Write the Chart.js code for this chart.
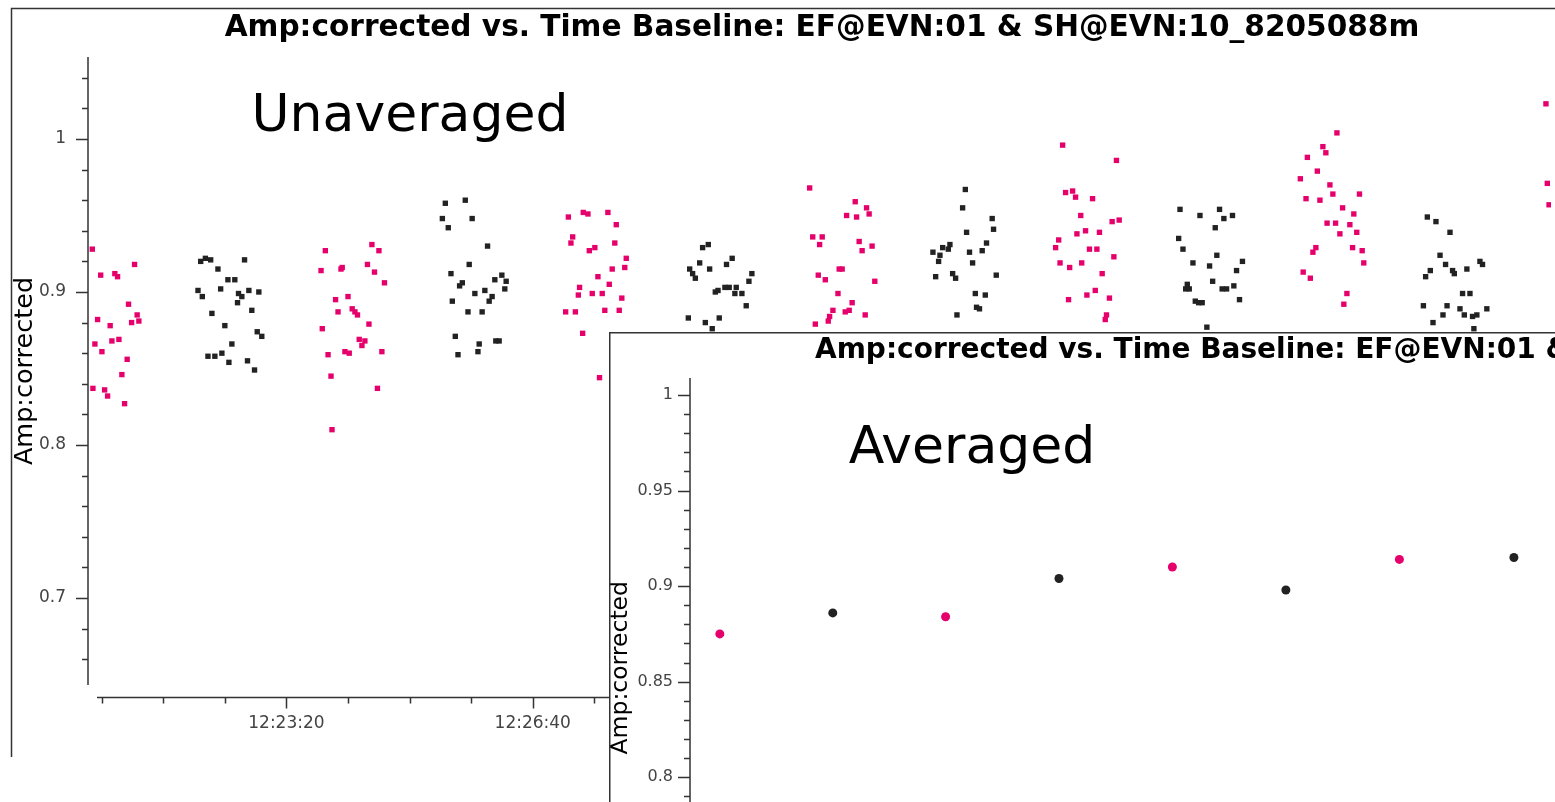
<!DOCTYPE html>
<html>
<head>
<meta charset="utf-8">
<script src="https://cdn.jsdelivr.net/npm/chart.js@4.4.0/dist/chart.umd.min.js"></script>
<style>
  html, body { margin: 0; padding: 0; background: #fff; overflow: hidden; }
  #main { position: absolute; left: 0; top: 0; }
  #inset { position: absolute; left: 609px; top: 332px; background: #fff; }
</style>
</head>
<body>
<canvas id="main" width="1555" height="802"></canvas>
<canvas id="inset" width="946" height="630"></canvas>
<script>
// times are seconds after 12:20:00
const BASE_SEC = 12 * 3600 + 20 * 60;

// unaveraged, pink scans
const pinkTime = [
  42.4, 49.2, 60.7, 62.9, 76.7, 71.8, 78.8, 74.3, 80.2, 46.7, 56.9, 44.5, 58.3, 64.0, 50.2, 70.7, 66.4, 42.9, 52.4, 54.8, 68.6,
  231.6, 228.1, 229.1, 233.8, 236.2, 237.0, 269.4, 275.1, 244.3, 245.3, 265.8, 271.5, 279.6, 239.9, 250.0, 241.9, 253.4, 255.6, 257.7, 267.0, 259.1, 263.7, 261.3, 247.5, 251.0, 277.5, 273.9,
  428.9, 441.0, 432.4, 431.0, 438.0, 437.0, 426.7, 434.6, 440.5, 444.8, 461.0, 467.8, 445.9, 450.4, 466.6, 475.9, 474.7, 464.5, 452.9, 462.1, 448.3, 456.4, 472.3, 458.5, 470.2, 454.2,
  624.8, 627.3, 635.0, 632.9, 631.8, 637.5, 643.7, 641.0, 639.9, 629.4, 661.8, 671.0, 673.1, 654.8, 662.9, 665.0, 667.4, 675.5, 648.8, 651.2, 677.7, 647.8, 659.3, 656.9, 653.7, 669.9,
  830.2, 832.6, 838.3, 840.7, 844.9, 841.8, 827.0, 824.5, 828.1, 835.9, 845.7, 835.0, 873.9, 854.5, 848.8, 860.1, 870.4, 876.1, 852.0, 858.0, 871.8, 862.3, 856.7, 849.9, 868.2, 865.8, 864.8,
  1041.5, 1043.9, 1028.9, 1037.0, 1023.2, 1047.2, 1027.8, 1039.1, 1044.9, 1035.8, 1033.4, 1025.5, 1031.3, 1052.9, 1049.6, 1071.2, 1057.5, 1066.6, 1051.8, 1063.4, 1055.3, 1069.0, 1065.6, 1073.4, 1074.7, 1061.0, 1058.5,
  1222.6, 1223.7, 1225.1
];
const pinkAmp = [
  0.928, 0.911, 0.912, 0.910, 0.918, 0.892, 0.885, 0.880, 0.881, 0.882, 0.878, 0.866, 0.868, 0.869, 0.861, 0.856, 0.846, 0.837, 0.836, 0.832, 0.827,
  0.927, 0.914, 0.876, 0.859, 0.845, 0.810, 0.931, 0.927, 0.915, 0.916, 0.918, 0.913, 0.906, 0.895, 0.897, 0.887, 0.889, 0.887, 0.885, 0.879, 0.869, 0.868, 0.865, 0.861, 0.860, 0.861, 0.837,
  0.949, 0.952, 0.936, 0.932, 0.903, 0.898, 0.887, 0.887, 0.873, 0.951, 0.952, 0.944, 0.927, 0.929, 0.932, 0.922, 0.916, 0.915, 0.910, 0.905, 0.899, 0.899, 0.896, 0.888, 0.888, 0.844,
  0.968, 0.936, 0.936, 0.931, 0.911, 0.908, 0.888, 0.884, 0.881, 0.879, 0.959, 0.955, 0.951, 0.950, 0.949, 0.933, 0.927, 0.930, 0.915, 0.915, 0.907, 0.899, 0.893, 0.888, 0.887, 0.885,
  0.996, 0.965, 0.966, 0.962, 0.950, 0.938, 0.934, 0.929, 0.919, 0.916, 0.919, 0.895, 0.986, 0.961, 0.940, 0.939, 0.946, 0.947, 0.928, 0.928, 0.923, 0.912, 0.901, 0.898, 0.896, 0.885, 0.882,
  0.995, 0.991, 0.988, 0.979, 0.974, 0.970, 0.961, 0.960, 0.945, 0.929, 0.926, 0.913, 0.909, 1.004, 0.964, 0.964, 0.955, 0.951, 0.945, 0.944, 0.938, 0.939, 0.929, 0.927, 0.919, 0.899, 0.892,
  1.023, 0.971, 0.957
];

// unaveraged, dark scans
const blackTime = [
  130.4, 134.2, 138.5, 166.0, 144.4, 152.5, 158.1, 128.2, 131.7, 146.6, 161.1, 163.8, 169.5, 177.6, 160.3, 171.9, 139.5, 150.0, 176.3, 180.0, 155.7, 136.3, 141.9, 147.6, 153.3, 168.4, 174.1,
  329.0, 345.2, 326.6, 350.8, 331.4, 363.3, 348.4, 333.6, 342.8, 340.6, 374.9, 369.2, 378.4, 377.3, 361.1, 353.0, 367.0, 364.6, 334.7, 347.4, 358.9, 337.1, 356.5, 370.0, 372.7, 339.3, 355.5,
  537.9, 542.5, 535.5, 543.6, 527.4, 529.8, 532.0, 561.9, 557.3, 577.9, 575.5, 548.2, 550.4, 556.0, 559.5, 565.2, 564.1, 569.8, 573.3, 526.3, 540.1, 551.4, 545.7,
  751.2, 749.0, 773.0, 774.1, 752.2, 724.9, 730.6, 732.8, 737.4, 738.7, 768.4, 764.9, 754.6, 729.5, 757.1, 740.9, 743.3, 727.1, 776.3, 759.3, 767.4, 760.3, 762.7, 744.4,
  925.5, 957.6, 941.7, 961.1, 968.1, 954.1, 924.4, 927.9, 955.4, 936.0, 949.5, 976.2, 971.4, 952.0, 931.4, 930.1, 933.0, 959.7, 963.3, 969.2, 937.9, 940.6, 943.5, 973.8, 947.3,
  1126.3, 1133.3, 1144.7, 1136.6, 1141.1, 1128.7, 1124.9, 1146.8, 1148.2, 1158.4, 1169.0, 1171.1, 1154.9, 1160.9, 1123.1, 1142.3, 1152.8, 1174.6, 1139.0, 1156.3, 1163.0, 1166.5, 1130.9, 1164.1
];
const blackAmp = [
  0.920, 0.922, 0.921, 0.921, 0.915, 0.908, 0.908, 0.901, 0.897, 0.902, 0.899, 0.897, 0.901, 0.900, 0.893, 0.888, 0.886, 0.878, 0.874, 0.871, 0.866, 0.858, 0.858, 0.860, 0.854, 0.855, 0.849,
  0.958, 0.960, 0.948, 0.948, 0.942, 0.930, 0.918, 0.912, 0.906, 0.904, 0.911, 0.908, 0.907, 0.902, 0.901, 0.899, 0.897, 0.894, 0.894, 0.887, 0.887, 0.871, 0.866, 0.868, 0.868, 0.859, 0.861,
  0.929, 0.931, 0.919, 0.915, 0.915, 0.912, 0.909, 0.922, 0.918, 0.912, 0.907, 0.900, 0.901, 0.903, 0.903, 0.903, 0.899, 0.899, 0.891, 0.883, 0.880, 0.883, 0.876,
  0.967, 0.955, 0.948, 0.941, 0.939, 0.926, 0.924, 0.929, 0.928, 0.931, 0.932, 0.927, 0.926, 0.920, 0.919, 0.912, 0.909, 0.910, 0.911, 0.899, 0.898, 0.890, 0.889, 0.885,
  0.954, 0.954, 0.950, 0.948, 0.950, 0.942, 0.935, 0.928, 0.924, 0.919, 0.917, 0.920, 0.914, 0.907, 0.905, 0.902, 0.902, 0.902, 0.902, 0.904, 0.894, 0.893, 0.893, 0.895, 0.877,
  0.949, 0.946, 0.939, 0.924, 0.918, 0.914, 0.910, 0.914, 0.912, 0.915, 0.920, 0.918, 0.899, 0.899, 0.891, 0.891, 0.889, 0.889, 0.885, 0.885, 0.884, 0.885, 0.880, 0.876
];

// averaged (one point per scan)
const avgPinkTime = [60.7, 258.2, 456.6, 655.2];
const avgPinkAmp = [0.875, 0.884, 0.910, 0.914];
const avgBlackTime = [159.5, 357.4, 555.9, 755.4];
const avgBlackAmp = [0.886, 0.904, 0.898, 0.915];

// tick labels
const mainXTicks = [200, 400, 600, 800, 1000];
const mainYTicks = [0.7, 0.8, 0.9, 1];
const insetYTicks = [0.75, 0.8, 0.85, 0.9, 0.95, 1];

const TITLE = 'Amp:corrected vs. Time Baseline: EF@EVN:01 & SH@EVN:10_8205088m';
const PINK = '#e5006c';
const DARK = '#222222';
const AXIS = '#333333';
const FONT = '"DejaVu Sans", sans-serif';

function hms(t) {
  const s = Math.round(BASE_SEC + t);
  const p = n => String(n).padStart(2, '0');
  return Math.floor(s / 3600) + ':' + p(Math.floor(s / 60) % 60) + ':' + p(s % 60);
}
const pts = (xs, ys) => xs.map((x, i) => ({ x, y: ys[i] }));

function tickValues(min, max, step) {
  const out = [];
  for (let i = Math.ceil(min / step - 1e-9); i * step <= max + 1e-9; i++) out.push(i * step);
  return out;
}
const isMajor = (v, step) => Math.abs(v / step - Math.round(v / step)) < 1e-6;

// fixed axis width, no extra label padding eating into the plot area
const fixWidth = w => s => { s.width = w; s.paddingTop = 0; s.paddingBottom = 0; };

// axis spines (offset, with minor ticks), frame edges and free text
function decor(opt) {
  return {
    id: 'decor',
    afterDraw(chart) {
      const { ctx, chartArea: a, scales: { x, y } } = chart;
      ctx.save();
      ctx.strokeStyle = AXIS;
      ctx.lineWidth = 1.5;
      ctx.beginPath();
      ctx.moveTo(opt.frameX, opt.frameBottom);
      ctx.lineTo(opt.frameX, opt.frameY);
      ctx.lineTo(chart.width, opt.frameY);

      ctx.moveTo(a.left, a.top);
      ctx.lineTo(a.left, a.bottom);
      tickValues(y.min, y.max, opt.yMinor).forEach(v => {
        const len = isMajor(v, opt.yMajor) ? 12 : 6;
        const py = Math.round(y.getPixelForValue(v)) + 0.5;
        ctx.moveTo(a.left - len, py);
        ctx.lineTo(a.left, py);
      });
      if (opt.xSpineY) {
        ctx.moveTo(opt.xSpineLeft, opt.xSpineY);
        ctx.lineTo(a.right, opt.xSpineY);
        tickValues(x.min, x.max, opt.xMinor).forEach(v => {
          const px = Math.round(x.getPixelForValue(v)) + 0.5;
          if (px < opt.xSpineLeft) return;
          const len = isMajor(v, opt.xMajor) ? 11 : 6;
          ctx.moveTo(px, opt.xSpineY);
          ctx.lineTo(px, opt.xSpineY + len);
        });
      }
      ctx.stroke();

      ctx.fillStyle = '#000';
      ctx.textBaseline = 'middle';
      ctx.font = 'bold ' + opt.titleSize + 'px ' + FONT;
      ctx.textAlign = opt.titleAlign;
      ctx.fillText(TITLE, opt.titleX, opt.titleY);
      ctx.font = '52px ' + FONT;
      ctx.textAlign = 'center';
      ctx.fillText(opt.label, opt.labelX, opt.labelY);
      ctx.restore();
    }
  };
}

const tickFont = { family: FONT, size: 17 };

new Chart(document.getElementById('main'), {
  type: 'scatter',
  data: {
    datasets: [
      { data: pts(pinkTime, pinkAmp), backgroundColor: PINK, pointStyle: 'rect', pointRadius: 3.8, pointBorderWidth: 0 },
      { data: pts(blackTime, blackAmp), backgroundColor: DARK, pointStyle: 'rect', pointRadius: 3.8, pointBorderWidth: 0 }
    ]
  },
  options: {
    responsive: false,
    animation: false,
    events: [],
    layout: { padding: { left: 0, top: 57, right: 0, bottom: 0 } },
    plugins: { legend: { display: false }, tooltip: { enabled: false } },
    scales: {
      x: {
        type: 'linear',
        min: 38.9,
        max: 1226.7,
        grid: { display: false, drawTicks: false },
        border: { display: false },
        afterFit: s => { s.height = 117; },
        afterBuildTicks: s => { s.ticks = mainXTicks.map(v => ({ value: v })); },
        ticks: { callback: v => hms(v), font: tickFont, color: '#444', padding: 28, maxRotation: 0, autoSkip: false },
        title: { display: true, text: 'Time', font: { family: FONT, size: 22, weight: 'bold', lineHeight: 1 }, color: '#000', padding: { bottom: 46 } }
      },
      y: {
        min: 0.6431,
        max: 1.0536,
        grid: { display: false, drawTicks: false },
        border: { display: false },
        afterFit: fixWidth(88),
        afterBuildTicks: s => { s.ticks = mainYTicks.map(v => ({ value: v })); },
        ticks: { callback: v => String(v), font: tickFont, color: '#444', padding: 22 },
        title: { display: true, text: 'Amp:corrected', font: { family: FONT, size: 25.5, lineHeight: 1 }, color: '#000', padding: { top: 13, bottom: 0 } }
      }
    }
  },
  plugins: [decor({
    frameX: 11.5, frameY: 8.5, frameBottom: 757,
    yMinor: 0.02, yMajor: 0.1,
    xSpineY: 697.5, xSpineLeft: 97, xMinor: 50, xMajor: 200,
    titleSize: 29.6, titleAlign: 'center', titleX: 822, titleY: 28,
    label: 'Unaveraged', labelX: 410, labelY: 117
  })]
});

new Chart(document.getElementById('inset'), {
  type: 'scatter',
  data: {
    datasets: [
      { data: pts(avgPinkTime, avgPinkAmp), backgroundColor: PINK, pointRadius: 4.5, pointBorderWidth: 0 },
      { data: pts(avgBlackTime, avgBlackAmp), backgroundColor: DARK, pointRadius: 4.5, pointBorderWidth: 0 }
    ]
  },
  options: {
    responsive: false,
    animation: false,
    events: [],
    layout: { padding: { left: 0, top: 46, right: 0, bottom: 0 } },
    plugins: { legend: { display: false }, tooltip: { enabled: false } },
    scales: {
      x: { type: 'linear', display: false, min: 34.6, max: 787.4 },
      y: {
        min: 0.7057,
        max: 1.0089,
        grid: { display: false, drawTicks: false },
        border: { display: false },
        afterFit: fixWidth(81),
        afterBuildTicks: s => { s.ticks = insetYTicks.map(v => ({ value: v })); },
        ticks: { callback: v => String(v), font: { family: FONT, size: 16 }, color: '#444', padding: 17 },
        title: { display: true, text: 'Amp:corrected', font: { family: FONT, size: 23.5, lineHeight: 1 }, color: '#000', padding: { top: 0, bottom: 0 } }
      }
    }
  },
  plugins: [decor({
    frameX: 0.75, frameY: 0.75, frameBottom: 630,
    yMinor: 0.01, yMajor: 0.05,
    titleSize: 28, titleAlign: 'left', titleX: 206, titleY: 19,
    label: 'Averaged', labelX: 363, labelY: 117
  })]
});
</script>
</body>
</html>
